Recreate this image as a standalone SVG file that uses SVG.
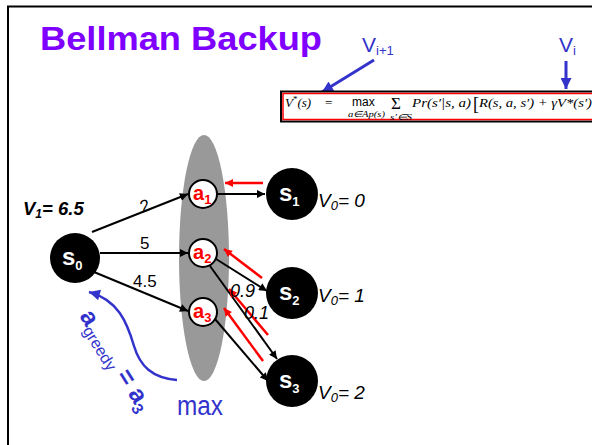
<svg xmlns="http://www.w3.org/2000/svg" width="592" height="445" viewBox="0 0 592 445">
<defs>
<marker id="ab" viewBox="0 0 10 10" refX="10" refY="5" markerWidth="9" markerHeight="8" markerUnits="userSpaceOnUse" orient="auto"><path d="M0,0 L10,5 L0,10 z" fill="#000"/></marker>
<marker id="ar" viewBox="0 0 10 10" refX="10" refY="5" markerWidth="9" markerHeight="8" markerUnits="userSpaceOnUse" orient="auto"><path d="M0,0 L10,5 L0,10 z" fill="#ff0000"/></marker>
<marker id="au" viewBox="0 0 10 10" refX="10" refY="5" markerWidth="12" markerHeight="11" markerUnits="userSpaceOnUse" orient="auto"><path d="M0,0 L10,5 L0,10 z" fill="#3333cc"/></marker>
</defs>
<style>
.s{fill:#000}
.a{fill:#fff;stroke:#000;stroke-width:2}
.sl{fill:#fff;font:bold 24px "Liberation Sans",Arial,sans-serif}
.al{fill:#ff0000;font:bold 20px "Liberation Sans",Arial,sans-serif}
.sub{font-size:13px}
.e{stroke:#000;stroke-width:2;fill:none;marker-end:url(#ab)}
.r{stroke:#ff0000;stroke-width:2.5;fill:none;marker-end:url(#ar)}
.lbl{font:17px "Liberation Sans",Arial,sans-serif;fill:#000}
.v0{font:italic 19px "Liberation Sans",Arial,sans-serif;fill:#000}
.blue{fill:#3333cc;font-family:"Liberation Sans",Arial,sans-serif}
.eq{font-family:"Liberation Serif","Times New Roman",serif;font-style:italic;font-size:13px;fill:#000}
</style>
<rect width="592" height="445" fill="#fff"/>
<path d="M8,445 V6.5 H592" fill="none" stroke="#000" stroke-width="2"/>

<text x="40" y="50" textLength="282" lengthAdjust="spacingAndGlyphs" style="font:bold 33px 'Liberation Sans',Arial,sans-serif;fill:#8000ff">Bellman Backup</text>

<g id="Vlabels">
<text x="362" y="52" class="blue" font-size="21">V<tspan font-size="13" dy="3">i+1</tspan></text>
<text x="559" y="52" class="blue" font-size="21">V<tspan font-size="13" dy="3">i</tspan></text>
<line x1="374" y1="60" x2="322" y2="92" stroke="#3333cc" stroke-width="3" marker-end="url(#au)"/>
<line x1="566" y1="61" x2="566" y2="89" stroke="#3333cc" stroke-width="3" marker-end="url(#au)"/>
</g>

<g id="equation">
<rect x="281" y="91.5" width="320" height="30" fill="#fff" stroke="#000" stroke-width="2"/>
<rect x="283" y="93.5" width="316" height="26" fill="none" stroke="#ff0000" stroke-width="1.5"/>
<text class="eq" x="285" y="107">V<tspan style="font-size:9px;font-style:normal" dy="-5">*</tspan><tspan dy="5">(s)</tspan></text>
<text class="eq" x="325" y="107" style="font-style:normal">=</text>
<text class="eq" x="352" y="106" style="font:12px 'Liberation Sans',sans-serif">max</text>
<text class="eq" x="348" y="117" style="font-size:8.5px" textLength="37" lengthAdjust="spacingAndGlyphs">a∈Ap(s)</text>
<text class="eq" x="391" y="109" style="font-size:17px;font-style:normal">Σ</text>
<text class="eq" x="390" y="119.5" style="font-size:8.5px" textLength="22" lengthAdjust="spacingAndGlyphs">s′∈S</text>
<text class="eq" x="412" y="107" textLength="59" lengthAdjust="spacingAndGlyphs">Pr(s′|s, a)</text>
<text class="eq" x="473" y="110" style="font-size:18px;font-style:normal">[</text>
<text class="eq" x="479" y="107" textLength="113" lengthAdjust="spacingAndGlyphs">R(s, a, s′) + γV*(s′)</text>
</g>

<ellipse cx="204" cy="258" rx="25" ry="123" fill="#999"/>

<g id="connectors">
<line class="e" x1="92" y1="232" x2="188" y2="194"/>
<line class="e" x1="100" y1="253" x2="188" y2="253"/>
<line class="e" x1="94" y1="272" x2="188" y2="311"/>
<line class="e" x1="218" y1="194" x2="265" y2="194"/>
<line class="e" x1="216" y1="259" x2="267" y2="291"/>
<line class="e" x1="210" y1="266" x2="277" y2="359"/>
<line class="e" x1="215" y1="319" x2="268" y2="381"/>
<line class="r" x1="263" y1="183" x2="225" y2="183"/>
<line class="r" x1="262" y1="278" x2="224" y2="249"/>
<line class="r" x1="268" y1="335" x2="229" y2="289"/>
<line class="r" x1="263" y1="361" x2="224" y2="308"/>
<text class="lbl" x="140" y="211" transform="rotate(-20 146 205)">2</text>
<text class="lbl" x="140" y="249">5</text>
<text class="lbl" x="133" y="287">4.5</text>
<text class="v0" x="230" y="297" style="font-size:18px">0.9</text>
<text class="v0" x="244" y="319" style="font-size:18px">0.1</text>
</g>

<g id="s0">
<circle class="s" cx="75" cy="258" r="25"/>
<text class="sl" x="62" y="265">s<tspan class="sub" dy="5">0</tspan></text>
</g>
<g id="s1">
<circle class="s" cx="292" cy="194" r="26"/>
<text class="sl" x="279" y="201">s<tspan class="sub" dy="5">1</tspan></text>
</g>
<g id="s2">
<circle class="s" cx="292" cy="293" r="26"/>
<text class="sl" x="279" y="300">s<tspan class="sub" dy="5">2</tspan></text>
</g>
<g id="s3">
<circle class="s" cx="292" cy="381" r="26"/>
<text class="sl" x="279" y="388">s<tspan class="sub" dy="5">3</tspan></text>
</g>
<g id="a1">
<circle class="a" cx="203" cy="194" r="14"/>
<text class="al" x="193" y="200">a<tspan class="sub" dy="4">1</tspan></text>
</g>
<g id="a2">
<circle class="a" cx="203" cy="253" r="14"/>
<text class="al" x="193" y="259">a<tspan class="sub" dy="4">2</tspan></text>
</g>
<g id="a3">
<circle class="a" cx="203" cy="312" r="14"/>
<text class="al" x="193" y="318">a<tspan class="sub" dy="4">3</tspan></text>
</g>

<g id="values">
<text class="v0" x="318" y="207">V<tspan style="font-size:13px" dy="3">0</tspan><tspan dy="-3">= 0</tspan></text>
<text class="v0" x="318" y="302">V<tspan style="font-size:13px" dy="3">0</tspan><tspan dy="-3">= 1</tspan></text>
<text class="v0" x="318" y="399">V<tspan style="font-size:13px" dy="3">0</tspan><tspan dy="-3">= 2</tspan></text>
<text x="23" y="215" style="font:bold italic 18.5px 'Liberation Sans',Arial,sans-serif">V<tspan style="font-size:12px" dy="3">1</tspan><tspan dy="-3">= 6.5</tspan></text>
</g>

<g id="greedy">
<path d="M177,380 C152,378 140,366 134,346 C127,322 118,300 89,292" fill="none" stroke="#3333cc" stroke-width="2.5" marker-end="url(#au)"/>
<text class="blue" font-weight="bold" font-size="25" transform="translate(79,316) rotate(58)">a<tspan font-weight="normal" font-size="16" dy="5">greedy</tspan><tspan dy="-5"> = a</tspan><tspan font-size="16" dy="5">3</tspan></text>
<text class="blue" x="177" y="415" font-size="27" textLength="46" lengthAdjust="spacingAndGlyphs">max</text>
</g>
</svg>
